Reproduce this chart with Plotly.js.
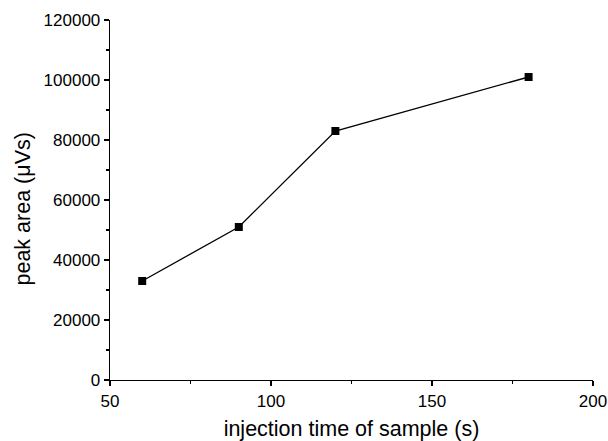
<!DOCTYPE html>
<html><head><meta charset="utf-8">
<script src="https://cdn.plot.ly/plotly-3.0.1.min.js"></script>
<style>body{margin:0;padding:0;background:#fff}#chart{width:608px;height:441px}</style>
</head><body><div id="chart"></div>
<script>
const injectionTime = [60, 90, 120, 180];
const peakArea = [33000, 51000, 83000, 101000];
const xTitle = 'injection time of sample (s)';
const yTitle = 'peak area (μVs)';

const trace = {
  x: injectionTime, y: peakArea, type: 'scatter', mode: 'lines+markers',
  line: {color: '#000', width: 1.3},
  marker: {symbol: 'square', size: 8, color: '#000'},
  showlegend: false
};
const axisCommon = {
  showgrid: false, zeroline: false, showline: true, linecolor: '#000', linewidth: 1.3,
  ticks: 'outside', ticklen: 5, tickwidth: 1.3, tickcolor: '#000',
  tickfont: {family: 'Liberation Sans, Arial, sans-serif', size: 17, color: '#000'},
  mirror: false
};
const layout = {
  width: 608, height: 441,
  margin: {l: 110, r: 15, t: 20, b: 61},
  paper_bgcolor: '#fff', plot_bgcolor: '#fff',
  xaxis: Object.assign({}, axisCommon, {
    range: [50, 200], tickvals: [50, 100, 150, 200],
    minor: {tickvals: [75, 125, 175], ticks: 'outside', ticklen: 3, tickwidth: 1.3, tickcolor: '#000'},
    title: {text: xTitle, font: {family: 'Liberation Sans, Arial, sans-serif', size: 21.5, color: '#000'}, standoff: 11}
  }),
  yaxis: Object.assign({}, axisCommon, {
    range: [0, 120000], tickvals: [0, 20000, 40000, 60000, 80000, 100000, 120000],
    ticktext: ['0','20000','40000','60000','80000','100000','120000'],
    minor: {tickvals: [10000, 30000, 50000, 70000, 90000, 110000], ticks: 'outside', ticklen: 3, tickwidth: 1.3, tickcolor: '#000'}
  }),
  annotations: [{
    text: yTitle, textangle: -90, showarrow: false,
    xref: 'paper', yref: 'paper', x: 0, y: 0.4736, xanchor: 'center', yanchor: 'middle',
    xshift: -87,
    font: {family: 'Liberation Sans, Arial, sans-serif', size: 21.5, color: '#000'}
  }]
};
Plotly.newPlot('chart', [trace], layout, {displayModeBar: false, staticPlot: true});
</script></body></html>
